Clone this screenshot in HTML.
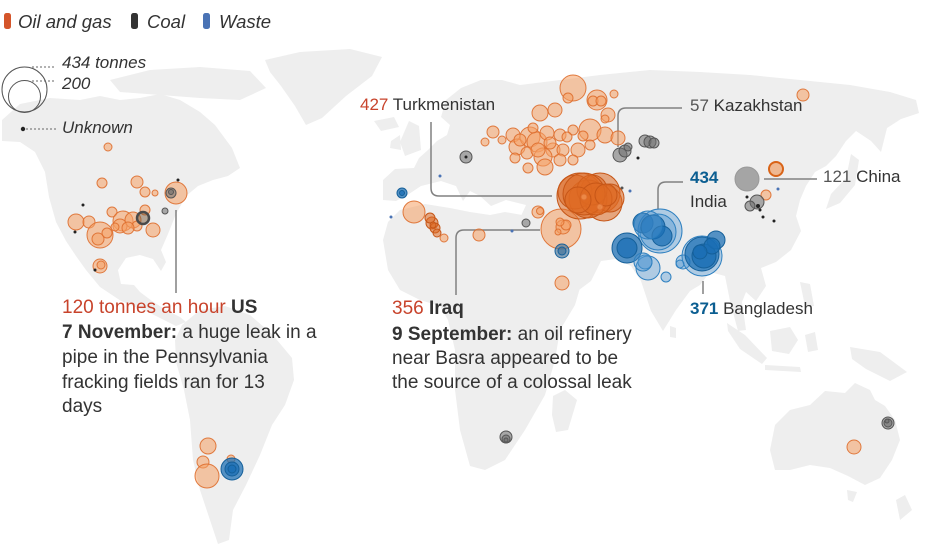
<!DOCTYPE html>
<html><head><meta charset="utf-8">
<style>
html,body{margin:0;padding:0;background:#fff;}
body{width:935px;height:555px;overflow:hidden;}
svg{display:block;font-family:"Liberation Sans",sans-serif;}
.land{fill:#eeeeee;stroke:none}
.o{fill:rgba(246,160,100,.55);stroke:rgba(222,110,45,.9);stroke-width:1}
.od{fill:rgba(222,105,35,.55);stroke:#c65617;stroke-width:1}
.b{fill:rgba(25,110,180,.72);stroke:#15609a;stroke-width:1}
.bl{fill:rgba(80,150,210,.4);stroke:#2e80c0;stroke-width:1}
.g{fill:rgba(110,110,110,.55);stroke:#555;stroke-width:1}
.k{fill:#222}
.ln{fill:none;stroke:#808080;stroke-width:1.5}
.t{font-size:17px;fill:#333}
.p{font-size:19px;fill:#333}
.lg{font-size:18.5px;fill:#333;font-style:italic}
.sl{font-size:17px;fill:#333;font-style:italic}
.red{fill:#c8432b}
.blu{fill:#0b5e91}
</style></head>
<body>
<svg width="935" height="555" viewBox="0 0 935 555" xmlns="http://www.w3.org/2000/svg">
<!-- land -->
<g class="land">
<path d="M2,120 L20,104 L50,98 L80,100 L100,96 L120,100 L140,98 L160,94 L180,100 L200,112 L215,125 L232,148 L240,168 L228,176 L213,180 L198,186 L186,196 L176,214 L168,234 L161,250 L166,262 L161,271 L153,259 L140,255 L126,258 L118,270 L121,284 L134,285 L140,292 L152,301 L166,310 L180,317 L186,322 L176,326 L150,313 L121,301 L100,287 L86,270 L76,256 L66,241 L56,222 L49,197 L45,172 L35,152 L20,142 L2,141 Z"/>
<path d="M110,80 L150,70 L200,67 L250,71 L266,88 L240,100 L200,98 L160,95 L120,92 Z"/>
<path d="M265,60 L300,52 L350,49 L382,57 L372,76 L346,96 L322,118 L306,125 L295,106 L281,86 L270,72 Z"/>
<path d="M374,121 L394,117 L399,127 L381,131 Z"/>
<path d="M182,325 L200,310 L225,306 L250,315 L272,334 L292,358 L294,380 L285,405 L272,425 L260,455 L246,485 L233,510 L229,540 L218,544 L210,520 L200,490 L193,460 L190,420 L184,390 L176,362 L175,340 Z"/>
<path d="M383,200 L383,180 L395,169 L414,168 L419,158 L428,150 L437,141 L447,135 L450,125 L441,117 L446,100 L461,88 L481,80 L502,80 L520,85 L560,80 L600,75 L650,70 L700,72 L750,75 L800,80 L850,85 L890,92 L916,100 L919,113 L901,119 L887,128 L881,152 L871,141 L856,131 L846,141 L836,156 L826,166 L815,172 L806,186 L800,200 L796,216 L801,231 L791,250 L776,262 L761,268 L766,286 L756,301 L746,292 L742,302 L746,330 L738,331 L730,301 L725,276 L710,272 L700,285 L690,291 L676,310 L663,331 L651,311 L641,281 L631,266 L616,259 L601,261 L591,281 L571,296 L556,301 L546,281 L531,256 L523,226 L521,216 L526,205 L506,200 L491,206 L480,196 L470,191 L463,201 L456,186 L441,181 L421,186 L406,196 L396,201 Z"/>
<path d="M400,142 L409,121 L419,126 L421,150 L405,156 Z"/>
<path d="M391,141 L400,135 L401,150 L390,148 Z"/>
<path d="M383,240 L388,222 L400,210 L425,204 L450,208 L470,212 L490,215 L505,212 L522,215 L530,240 L545,270 L560,290 L580,288 L575,305 L560,330 L555,360 L545,395 L525,430 L505,460 L485,470 L470,466 L460,430 L455,390 L455,350 L448,320 L440,306 L420,300 L400,290 L388,270 Z"/>
<path d="M553,396 L565,390 L577,400 L568,430 L556,432 L552,415 Z"/>
<path d="M826,209 L840,203 L855,185 L859,160 L851,154 L846,178 L831,194 Z"/>
<path d="M727,323 L745,335 L767,358 L762,364 L740,349 L728,331 Z"/>
<path d="M770,331 L790,327 L798,340 L789,354 L772,351 Z"/>
<path d="M765,365 L800,367 L801,372 L765,370 Z"/>
<path d="M805,335 L815,332 L818,350 L808,352 Z"/>
<path d="M800,282 L810,284 L814,306 L805,306 Z"/>
<path d="M850,347 L880,352 L907,372 L890,381 L866,369 L852,359 Z"/>
<path d="M670,326 L676,328 L676,338 L670,337 Z"/>
<path d="M775,425 L790,410 L810,405 L825,391 L845,393 L855,383 L870,390 L875,400 L885,406 L895,420 L900,440 L892,460 L880,478 L865,485 L848,476 L830,468 L810,465 L790,470 L775,470 L770,450 Z"/>
<path d="M847,490 L857,492 L853,502 L848,500 Z"/>
<path d="M896,500 L905,495 L912,510 L900,520 Z"/>
</g>

<!-- annotation lines -->
<path class="ln" d="M176,210 V293"/>
<path class="ln" d="M431,122 V188 Q431,196 439,196 H552"/>
<path class="ln" d="M618,147 V116 Q618,108 626,108 H682"/>
<path class="ln" d="M658,209 V190 Q658,182 666,182 H683"/>
<path class="ln" d="M764,179 H817"/>
<path class="ln" d="M703,281 V294"/>
<path class="ln" d="M456,295 V238 Q456,230 464,230 H540"/>

<!-- North America bubbles -->
<g>
<circle class="o" cx="108" cy="147" r="4"/>
<circle class="o" cx="102" cy="183" r="5"/>
<circle class="o" cx="137" cy="182" r="6"/>
<circle class="o" cx="145" cy="192" r="5"/>
<circle class="o" cx="155" cy="193" r="3"/>
<circle class="o" cx="176" cy="193" r="11"/>
<circle class="g" cx="171" cy="193" r="5"/>
<circle class="g" cx="171" cy="192" r="2.5"/>
<circle class="o" cx="76" cy="222" r="8"/>
<circle class="o" cx="89" cy="222" r="6"/>
<circle class="o" cx="112" cy="212" r="5"/>
<circle class="o" cx="100" cy="235" r="13"/>
<circle class="o" cx="98" cy="239" r="6"/>
<circle class="o" cx="107" cy="233" r="5"/>
<circle class="o" cx="123" cy="221" r="10"/>
<circle class="o" cx="120" cy="226" r="7"/>
<circle class="o" cx="133" cy="220" r="8"/>
<circle class="o" cx="115" cy="227" r="4"/>
<circle class="o" cx="137" cy="226" r="5"/>
<circle class="o" cx="128" cy="228" r="6"/>
<circle class="o" cx="145" cy="210" r="5"/>
<circle class="o" cx="153" cy="230" r="7"/>
<circle class="o" cx="100" cy="266" r="7"/>
<circle class="o" cx="101" cy="265" r="4"/>
<circle class="g" cx="165" cy="211" r="3"/>
<circle cx="143" cy="218" r="6" fill="rgba(120,90,60,.5)" stroke="#4a4a4a" stroke-width="2.5"/>
<circle class="k" cx="178" cy="180" r="1.5"/>
<circle class="k" cx="83" cy="205" r="1.5"/>
<circle class="k" cx="75" cy="232" r="1.5"/>
<circle class="k" cx="95" cy="270" r="1.5"/>
</g>

<!-- South America -->
<g>
<circle class="o" cx="208" cy="446" r="8"/>
<circle class="o" cx="203" cy="462" r="6"/>
<circle class="o" cx="207" cy="476" r="12"/>
<circle class="o" cx="231" cy="459" r="4"/>
<circle class="b" cx="232" cy="469" r="11"/>
<circle class="b" cx="232" cy="469" r="7"/>
<circle class="b" cx="232" cy="469" r="4"/>
</g>

<circle class="g" cx="506" cy="437" r="6"/>
<circle class="g" cx="506" cy="439" r="4"/>
<circle class="g" cx="506" cy="440" r="2"/>
<circle class="g" cx="888" cy="423" r="6"/>
<circle class="g" cx="888" cy="423" r="4"/>
<circle class="g" cx="887" cy="421" r="2"/>
<circle class="o" cx="854" cy="447" r="7"/>

<!-- Europe / Russia -->
<g>
<circle class="o" cx="573" cy="88" r="13"/>
<circle class="o" cx="568" cy="98" r="5"/>
<circle class="o" cx="597" cy="100" r="10"/>
<circle class="o" cx="593" cy="101" r="5"/>
<circle class="o" cx="601" cy="101" r="5"/>
<circle class="o" cx="614" cy="94" r="4"/>
<circle class="o" cx="540" cy="113" r="8"/>
<circle class="o" cx="555" cy="110" r="7"/>
<circle class="o" cx="608" cy="115" r="7"/>
<circle class="o" cx="605" cy="119" r="4"/>
<circle class="o" cx="590" cy="130" r="11"/>
<circle class="o" cx="605" cy="135" r="8"/>
<circle class="o" cx="618" cy="138" r="7"/>
<circle class="o" cx="573" cy="130" r="5"/>
<circle class="o" cx="583" cy="136" r="5"/>
<circle class="o" cx="493" cy="132" r="6"/>
<circle class="o" cx="485" cy="142" r="4"/>
<circle class="o" cx="502" cy="140" r="4"/>
<circle class="o" cx="513" cy="135" r="7"/>
<circle class="o" cx="517" cy="147" r="8"/>
<circle class="o" cx="530" cy="137" r="10"/>
<circle class="o" cx="537" cy="142" r="10"/>
<circle class="o" cx="547" cy="133" r="7"/>
<circle class="o" cx="560" cy="135" r="6"/>
<circle class="o" cx="553" cy="150" r="7"/>
<circle class="o" cx="543" cy="157" r="9"/>
<circle class="o" cx="527" cy="153" r="6"/>
<circle class="o" cx="528" cy="168" r="5"/>
<circle class="o" cx="545" cy="167" r="8"/>
<circle class="o" cx="563" cy="150" r="6"/>
<circle class="o" cx="578" cy="150" r="7"/>
<circle class="o" cx="567" cy="137" r="5"/>
<circle class="o" cx="533" cy="128" r="5"/>
<circle class="o" cx="520" cy="140" r="6"/>
<circle class="o" cx="538" cy="150" r="7"/>
<circle class="o" cx="550" cy="143" r="6"/>
<circle class="o" cx="590" cy="145" r="5"/>
<circle class="o" cx="573" cy="160" r="5"/>
<circle class="o" cx="560" cy="160" r="6"/>
<circle class="o" cx="515" cy="158" r="5"/>
<circle class="o" cx="803" cy="95" r="6"/>
<circle class="g" cx="466" cy="157" r="6"/>
<circle class="k" cx="466" cy="157" r="1.5"/>
<circle class="g" cx="620" cy="155" r="7"/>
<circle class="g" cx="625" cy="151" r="6"/>
<circle class="g" cx="628" cy="147" r="4"/>
<circle class="g" cx="645" cy="141" r="6"/>
<circle class="g" cx="650" cy="142" r="6"/>
<circle class="g" cx="654" cy="143" r="5"/>
<circle class="k" cx="638" cy="158" r="1.5"/>
</g>

<!-- N Africa / Spain -->
<g>
<circle class="o" cx="414" cy="212" r="11"/>
<circle class="od" cx="432" cy="223" r="6"/>
<circle class="od" cx="435" cy="228" r="5"/>
<circle class="od" cx="430" cy="218" r="5"/>
<circle class="od" cx="437" cy="233" r="4"/>
<circle class="o" cx="444" cy="238" r="4"/>
<circle class="od" cx="433" cy="225" r="3"/>
<circle class="b" cx="402" cy="193" r="5"/>
<circle class="b" cx="402" cy="193" r="2.5"/>
<circle fill="#4a73b5" cx="440" cy="176" r="1.5"/>
<circle fill="#4a73b5" cx="391" cy="217" r="1.5"/>
<circle fill="#4a73b5" cx="630" cy="191" r="1.5"/>
<circle fill="#555" cx="622" cy="188" r="1.5"/>
<circle fill="#4a73b5" cx="512" cy="231" r="1.5"/>
<circle class="o" cx="479" cy="235" r="6"/>
</g>

<!-- Middle East -->
<g>
<circle class="o" cx="561" cy="229" r="20"/>
<circle class="o" cx="563" cy="227" r="7"/>
<circle class="o" cx="566" cy="225" r="5"/>
<circle class="o" cx="560" cy="222" r="4"/>
<circle class="o" cx="558" cy="232" r="3"/>
<circle class="o" cx="538" cy="212" r="6"/>
<circle class="o" cx="540" cy="211" r="3.5"/>
<circle class="o" cx="562" cy="283" r="7"/>
<circle class="g" cx="526" cy="223" r="4"/>
<circle class="b" cx="562" cy="251" r="7" style="fill:rgba(60,110,150,.6)"/>
<circle class="b" cx="562" cy="251" r="4" style="fill:rgba(60,110,150,.6)"/>
<!-- Turkmenistan mass -->
<circle class="od" cx="580" cy="196" r="23"/>
<circle class="od" cx="600" cy="193" r="20"/>
<circle class="od" cx="604" cy="203" r="18"/>
<circle class="od" cx="588" cy="199" r="19"/>
<circle class="od" cx="575" cy="192" r="17"/>
<circle class="od" cx="610" cy="198" r="14"/>
<circle class="od" cx="592" cy="190" r="15"/>
<circle class="od" cx="584" cy="194" r="21"/>
<circle class="od" cx="596" cy="199" r="16"/>
<circle class="od" cx="578" cy="200" r="13"/>
<circle class="od" cx="606" cy="195" r="11"/>
<circle class="o" cx="584" cy="197" r="3"/>
<circle class="o" cx="600" cy="207" r="3"/>
</g>

<!-- India / Bangladesh -->
<g>
<circle class="bl" cx="660" cy="231" r="22"/>
<circle class="bl" cx="658" cy="232" r="18"/>
<circle class="b" cx="643" cy="223" r="10"/>
<circle class="b" cx="653" cy="227" r="12"/>
<circle class="b" cx="662" cy="236" r="10"/>
<circle class="bl" cx="648" cy="225" r="14"/>
<circle class="b" cx="627" cy="248" r="15"/>
<circle class="b" cx="627" cy="248" r="10"/>
<circle class="bl" cx="648" cy="268" r="12"/>
<circle class="bl" cx="645" cy="262" r="7"/>
<circle class="bl" cx="666" cy="277" r="5"/>
<circle class="bl" cx="643" cy="262" r="9"/>
<circle class="bl" cx="683" cy="262" r="7"/>
<circle class="bl" cx="680" cy="264" r="4"/>
<circle class="bl" cx="702" cy="256" r="20"/>
<circle class="b" cx="702" cy="254" r="17"/>
<circle class="b" cx="704" cy="256" r="12"/>
<circle class="b" cx="716" cy="240" r="9"/>
<circle class="b" cx="712" cy="246" r="8"/>
<circle class="b" cx="700" cy="252" r="7"/>
</g>

<!-- China -->
<g>
<circle cx="747" cy="179" r="12" fill="rgba(140,140,140,.75)" stroke="#999"/>
<circle cx="776" cy="169" r="7" fill="rgba(240,140,70,.55)" stroke="#d96418" stroke-width="2"/>
<circle class="o" cx="766" cy="195" r="5"/>
<circle class="g" cx="757" cy="202" r="7"/>
<circle class="g" cx="750" cy="206" r="5"/>
<circle class="k" cx="747" cy="197" r="1.5"/>
<circle class="k" cx="760" cy="210" r="1.5"/>
<circle class="k" cx="763" cy="217" r="1.5"/>
<circle class="k" cx="774" cy="221" r="1.5"/>
<circle class="k" cx="758" cy="206" r="2"/>
<circle fill="#4a73b5" cx="778" cy="189" r="1.5"/>
</g>

<!-- Legend -->
<rect x="4" y="13" width="7" height="16" rx="2.5" fill="#d4552a"/>
<text class="lg" x="18" y="28">Oil and gas</text>
<rect x="131" y="13" width="7" height="16" rx="2.5" fill="#333"/>
<text class="lg" x="147" y="28">Coal</text>
<rect x="203" y="13" width="7" height="16" rx="2.5" fill="#4a73b5"/>
<text class="lg" x="219" y="28">Waste</text>

<circle cx="24.5" cy="89.5" r="22.5" fill="none" stroke="#555" stroke-width="1"/>
<circle cx="24.5" cy="96.5" r="16" fill="none" stroke="#555" stroke-width="1"/>
<line x1="32" y1="67" x2="56" y2="67" stroke="#666" stroke-width="1" stroke-dasharray="2,2"/>
<line x1="32" y1="81" x2="56" y2="81" stroke="#666" stroke-width="1" stroke-dasharray="2,2"/>
<text class="sl" x="62" y="68">434 tonnes</text>
<text class="sl" x="62" y="89">200</text>
<circle cx="23" cy="129" r="2.2" fill="#222"/>
<line x1="26" y1="129" x2="56" y2="129" stroke="#666" stroke-width="1" stroke-dasharray="2,2"/>
<text class="sl" x="62" y="133">Unknown</text>

<!-- Labels -->
<text class="t" x="360" y="110"><tspan class="red">427</tspan> Turkmenistan</text>
<text class="t" x="690" y="111"><tspan style="fill:#555">57</tspan> Kazakhstan</text>
<text class="t" x="823" y="182"><tspan style="fill:#555">121</tspan> China</text>
<text class="t" x="690" y="183"><tspan class="blu" font-weight="bold">434</tspan></text>
<text class="t" x="690" y="207">India</text>
<text class="t" x="690" y="314"><tspan class="blu" font-weight="bold">371</tspan> Bangladesh</text>

<text class="p" x="62" y="313"><tspan class="red">120 tonnes an hour</tspan> <tspan font-weight="bold">US</tspan></text>
<text class="p" x="62" y="338"><tspan font-weight="bold">7 November:</tspan> a huge leak in a</text>
<text class="p" x="62" y="363">pipe in the Pennsylvania</text>
<text class="p" x="62" y="388">fracking fields ran for 13</text>
<text class="p" x="62" y="412">days</text>

<text class="p" x="392" y="314"><tspan class="red">356</tspan> <tspan font-weight="bold">Iraq</tspan></text>
<text class="p" x="392" y="340"><tspan font-weight="bold">9 September:</tspan> an oil refinery</text>
<text class="p" x="392" y="364">near Basra appeared to be</text>
<text class="p" x="392" y="388">the source of a colossal leak</text>
</svg>
</body></html>
